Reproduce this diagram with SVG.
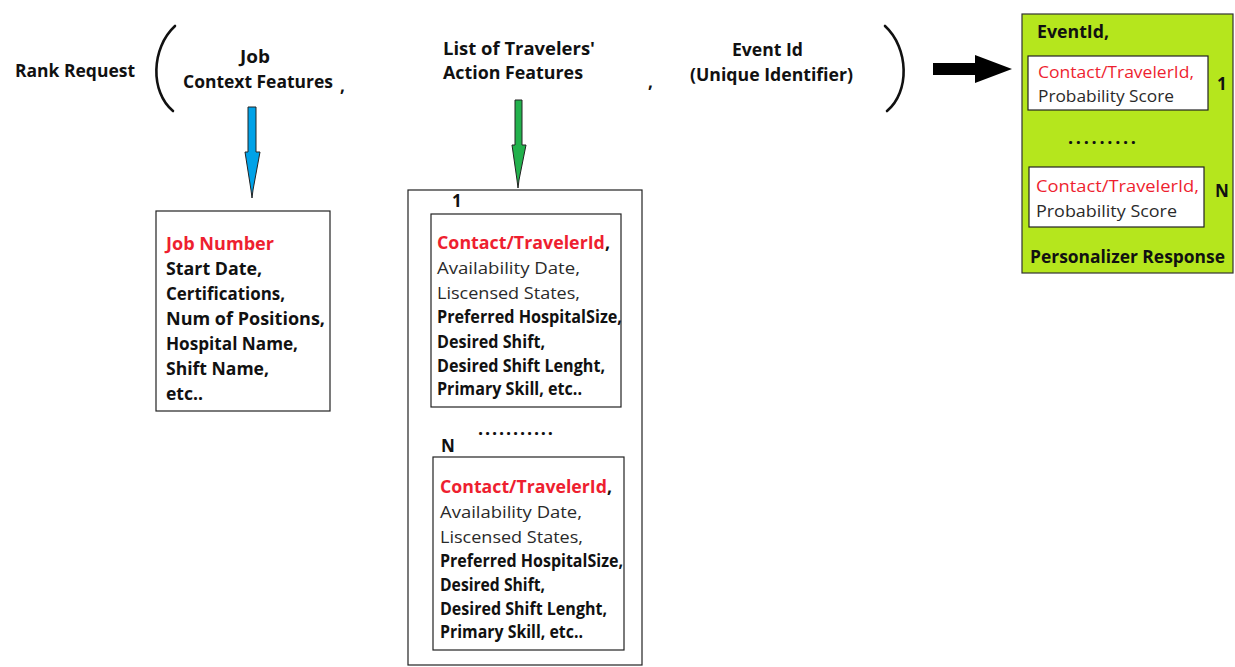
<svg xmlns="http://www.w3.org/2000/svg" width="1235" height="667" viewBox="0 0 1235 667">
  <style>
    text { font-family: "Open Sans", "Noto Sans", sans-serif; font-size: 17px; fill: #111; }
    .b { font-weight: bold; }
    .r { font-size: 16px; }
    .red { fill: #ee1f30; }
    .grey { fill: #2a2a2a; }
    .dots { font-size: 18px; font-weight: bold; }
    .box { fill: #fff; stroke: #222; stroke-width: 1.2; }
    .paren { fill: none; stroke: #111; stroke-width: 2.6; stroke-linecap: round; }
  </style>

  <!-- request header -->
  <g id="rank-request">
    <text class="b" x="15" y="77" textLength="120" lengthAdjust="spacingAndGlyphs">Rank Request</text>
    <path class="paren" d="M175,26 C151,48 150,92 173,111"/>
    <text class="b" x="240" y="63" textLength="30" lengthAdjust="spacingAndGlyphs">Job</text>
    <text class="b" x="183" y="88" textLength="150" lengthAdjust="spacingAndGlyphs">Context Features</text>
    <text class="b" x="340" y="92">,</text>
    <text class="b" x="443" y="55" textLength="152" lengthAdjust="spacingAndGlyphs">List of Travelers'</text>
    <text class="b" x="443" y="79" textLength="140" lengthAdjust="spacingAndGlyphs">Action Features</text>
    <text class="b" x="648" y="88">,</text>
    <text class="b" x="732" y="56" textLength="71" lengthAdjust="spacingAndGlyphs">Event Id</text>
    <text class="b" x="690" y="81" textLength="163" lengthAdjust="spacingAndGlyphs">(Unique Identifier)</text>
    <path class="paren" d="M885,26 C909,48 910,92 887,111"/>
  </g>

  <!-- connectors -->
  <g id="connectors">
    <polygon points="248,107 256,107 256,152 260,152 253,190 252,198 251,190 245,152 248,152" fill="#00a2e8" stroke="#222" stroke-width="1"/>
    <polygon points="515,100 522,100 522,145 526,145 519,180 518,188 517,180 512,145 515,145" fill="#22b14c" stroke="#222" stroke-width="1"/>
    <polygon points="933,63 975,63 975,55 1012,69 975,83 975,75 933,75" fill="#000"/>
  </g>

  <!-- job context features -->
  <g id="job-context">
    <rect class="box" x="156" y="211" width="174" height="200"/>
    <text class="b red" x="166" y="250" textLength="108" lengthAdjust="spacingAndGlyphs">Job Number</text>
    <text class="b" x="166" y="275" textLength="96" lengthAdjust="spacingAndGlyphs">Start Date,</text>
    <text class="b" x="166" y="300" textLength="119" lengthAdjust="spacingAndGlyphs">Certifications,</text>
    <text class="b" x="166" y="325" textLength="159" lengthAdjust="spacingAndGlyphs">Num of Positions,</text>
    <text class="b" x="166" y="350" textLength="132" lengthAdjust="spacingAndGlyphs">Hospital Name,</text>
    <text class="b" x="166" y="375" textLength="103" lengthAdjust="spacingAndGlyphs">Shift Name,</text>
    <text class="b" x="166" y="400" textLength="37" lengthAdjust="spacingAndGlyphs">etc..</text>
  </g>

  <!-- travelers list -->
  <g id="travelers">
    <rect class="box" x="408" y="190" width="234" height="475"/>
    <text class="b" x="452" y="207">1</text>
    <g id="traveler-1">
      <rect class="box" x="431" y="214" width="190" height="193"/>
      <text x="437" y="249" textLength="173" lengthAdjust="spacingAndGlyphs"><tspan class="b red">Contact/TravelerId</tspan><tspan class="b">,</tspan></text>
      <text class="grey r" x="437" y="274" textLength="143" lengthAdjust="spacingAndGlyphs">Availability Date,</text>
      <text class="grey r" x="437" y="299" textLength="143" lengthAdjust="spacingAndGlyphs">Liscensed States,</text>
      <text class="b" x="437" y="323" textLength="185" lengthAdjust="spacingAndGlyphs">Preferred HospitalSize,</text>
      <text class="b" x="437" y="348" textLength="108" lengthAdjust="spacingAndGlyphs">Desired Shift,</text>
      <text class="b" x="437" y="372" textLength="168" lengthAdjust="spacingAndGlyphs">Desired Shift Lenght,</text>
      <text class="b" x="437" y="395" textLength="145" lengthAdjust="spacingAndGlyphs">Primary Skill, etc..</text>
    </g>
    <text class="dots" x="478" y="435" textLength="75" lengthAdjust="spacing">...........</text>
    <text class="b" x="441" y="452">N</text>
    <g id="traveler-n">
      <rect class="box" x="433" y="457" width="191" height="193"/>
      <text x="440" y="493" textLength="172" lengthAdjust="spacingAndGlyphs"><tspan class="b red">Contact/TravelerId</tspan><tspan class="b">,</tspan></text>
      <text class="grey r" x="440" y="518" textLength="142" lengthAdjust="spacingAndGlyphs">Availability Date,</text>
      <text class="grey r" x="440" y="543" textLength="143" lengthAdjust="spacingAndGlyphs">Liscensed States,</text>
      <text class="b" x="440" y="567" textLength="183" lengthAdjust="spacingAndGlyphs">Preferred HospitalSize,</text>
      <text class="b" x="440" y="591" textLength="105" lengthAdjust="spacingAndGlyphs">Desired Shift,</text>
      <text class="b" x="440" y="615" textLength="167" lengthAdjust="spacingAndGlyphs">Desired Shift Lenght,</text>
      <text class="b" x="440" y="638" textLength="143" lengthAdjust="spacingAndGlyphs">Primary Skill, etc..</text>
    </g>
  </g>

  <!-- personalizer response -->
  <g id="response">
    <rect x="1022" y="14" width="211" height="259" fill="#b5e61d" stroke="#333" stroke-width="1.2"/>
    <text class="b" x="1037" y="38" textLength="72" lengthAdjust="spacingAndGlyphs">EventId,</text>
    <rect class="box" x="1028" y="56" width="180" height="54"/>
    <text class="red r" x="1038" y="78" textLength="156" lengthAdjust="spacingAndGlyphs">Contact/TravelerId,</text>
    <text class="grey r" x="1038" y="102" textLength="136" lengthAdjust="spacingAndGlyphs">Probability Score</text>
    <text class="b" x="1217" y="90">1</text>
    <text class="dots" x="1068" y="144" textLength="68" lengthAdjust="spacing">.........</text>
    <rect class="box" x="1029" y="167" width="175" height="60"/>
    <text class="red r" x="1036" y="192" textLength="163" lengthAdjust="spacingAndGlyphs">Contact/TravelerId,</text>
    <text class="grey r" x="1036" y="217" textLength="141" lengthAdjust="spacingAndGlyphs">Probability Score</text>
    <text class="b" x="1215" y="197">N</text>
    <text class="b" x="1030" y="263" textLength="195" lengthAdjust="spacingAndGlyphs">Personalizer Response</text>
  </g>
</svg>
